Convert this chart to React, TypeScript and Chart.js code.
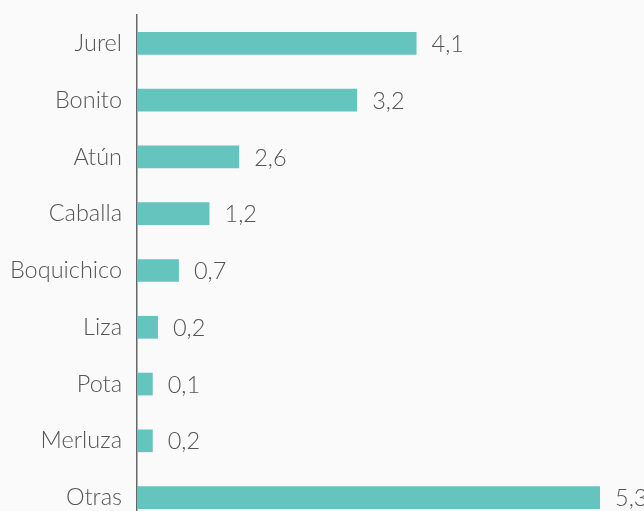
import React, { useEffect, useRef } from "react";
import { Chart, registerables } from "chart.js";

Chart.register(...registerables);

const categories = ["Jurel", "Bonito", "Atún", "Caballa", "Boquichico", "Liza", "Pota", "Merluza", "Otras"];
// bar lengths as drawn (in the unit of the "Otras" label)
const barValues = [3.2, 2.52, 1.17, 0.83, 0.48, 0.24, 0.18, 0.18, 5.3];
// value labels printed next to each bar
const valueLabels = ["4,1", "3,2", "2,6", "1,2", "0,7", "0,2", "0,1", "0,2", "5,3"];

const FONT = "Lato, 'Open Sans', sans-serif";

const labelPlugin = {
  id: "valueLabels",
  afterDatasetsDraw(chart: any) {
    const ctx = chart.ctx;
    const meta = chart.getDatasetMeta(0);
    ctx.save();
    ctx.font = `300 23.5px ${FONT}`;
    ctx.fillStyle = "#555555";
    ctx.textAlign = "left";
    ctx.textBaseline = "middle";
    meta.data.forEach((bar: any, i: number) => {
      ctx.fillText(valueLabels[i], bar.x + 15, bar.y + 1);
    });
    ctx.restore();
  },
};

export default function App() {
  const ref = useRef<HTMLCanvasElement>(null);
  useEffect(() => {
    document.body.style.margin = "0";
    document.body.style.background = "#fafafa";
    const chart = new Chart(ref.current!, {
      type: "bar",
      data: {
        labels: categories,
        datasets: [
          {
            data: barValues,
            backgroundColor: "#66c4be",
            barPercentage: 0.8,
            categoryPercentage: 0.5,
          },
        ],
      },
      options: {
        indexAxis: "y",
        animation: false,
        responsive: false,
        maintainAspectRatio: false,
        devicePixelRatio: 1,
        layout: { padding: { top: 15, right: 44, left: 0, bottom: 0 } },
        plugins: { legend: { display: false }, tooltip: { enabled: false } },
        scales: {
          x: { display: false, min: 0, max: 5.3 },
          y: {
            grid: { display: false, drawTicks: false },
            border: { display: true, color: "#666666", width: 1.5 },
            ticks: {
              color: "#555555",
              padding: 15,
              font: { family: FONT, size: 23.5, weight: "300" as any },
            },
            afterFit(scale: any) {
              scale.width = 137;
              scale.paddingTop = 0;
              scale.paddingBottom = 0;
            },
          },
        },
      },
      plugins: [labelPlugin],
    });
    return () => chart.destroy();
  }, []);
  return (
    <div style={{ position: "fixed", top: 0, left: 0, width: 644, height: 526, background: "#fafafa" }}>
      <canvas ref={ref} width={644} height={526} style={{ display: "block" }} />
    </div>
  );
}
